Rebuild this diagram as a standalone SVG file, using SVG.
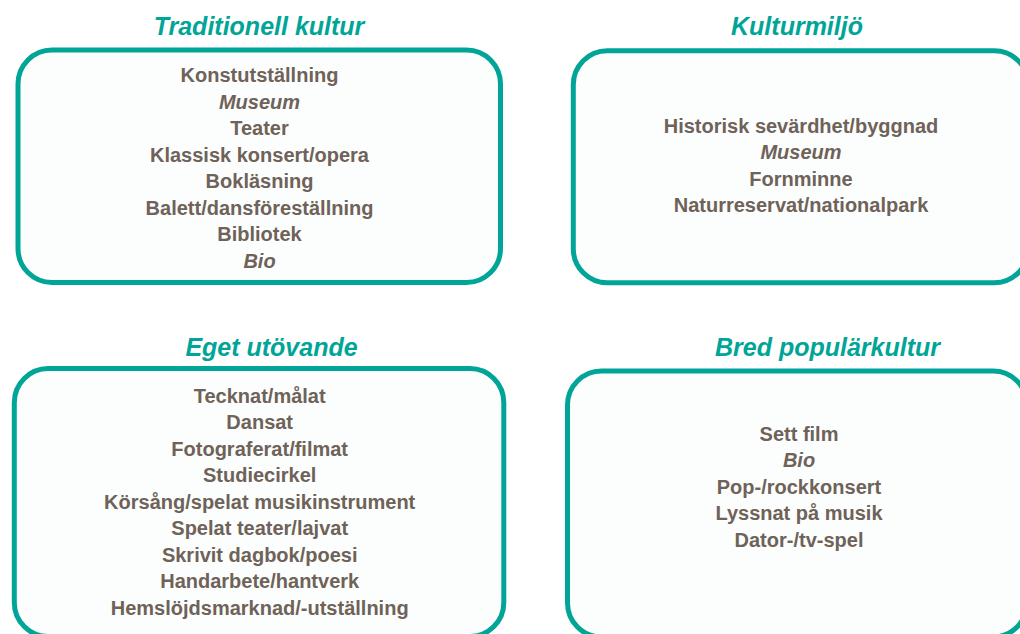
<svg xmlns="http://www.w3.org/2000/svg" width="1020" height="634" viewBox="0 0 1020 634">
<style>
.box{fill:#FCFEFD;stroke:#00A597;stroke-width:5}
.title{font-family:"Liberation Sans",Arial,sans-serif;font-size:25px;font-weight:bold;font-style:italic;fill:#00A597;text-anchor:middle}
.item{font-family:"Liberation Sans",Arial,sans-serif;font-size:20px;font-weight:bold;fill:#6E6259;text-anchor:middle}
.it{font-style:italic}
</style>
<rect width="1020" height="634" fill="#FFFFFF"/>
<g id="connectors"/>
<g id="traditionell-kultur">
<rect class="box" x="18" y="50" width="482.5" height="232.5" rx="34" ry="34"/>
<text class="title" x="259" y="35">Traditionell kultur</text>
<text class="item" x="259.5" y="82">Konstutställning</text>
<text class="item it" x="259.5" y="108.5">Museum</text>
<text class="item" x="259.5" y="135">Teater</text>
<text class="item" x="259.5" y="161.5">Klassisk konsert/opera</text>
<text class="item" x="259.5" y="188">Bokläsning</text>
<text class="item" x="259.5" y="214.5">Balett/dansföreställning</text>
<text class="item" x="259.5" y="241">Bibliotek</text>
<text class="item it" x="259.5" y="267.5">Bio</text>
</g>
<g id="kulturmiljo">
<rect class="box" x="573.3" y="50.8" width="455" height="232" rx="34" ry="34"/>
<text class="title" x="797" y="35">Kulturmiljö</text>
<text class="item" x="801" y="132.7">Historisk sevärdhet/byggnad</text>
<text class="item it" x="801" y="159.2">Museum</text>
<text class="item" x="801" y="185.7">Fornminne</text>
<text class="item" x="801" y="212.2">Naturreservat/nationalpark</text>
</g>
<g id="eget-utovande">
<rect class="box" x="14.3" y="368.5" width="489.5" height="268" rx="34" ry="34"/>
<text class="title" x="271.5" y="355.5">Eget utövande</text>
<text class="item" x="259.7" y="402.7">Tecknat/målat</text>
<text class="item" x="259.7" y="429.2">Dansat</text>
<text class="item" x="259.7" y="455.7">Fotograferat/filmat</text>
<text class="item" x="259.7" y="482.2">Studiecirkel</text>
<text class="item" x="259.7" y="508.7">Körsång/spelat musikinstrument</text>
<text class="item" x="259.7" y="535.2">Spelat teater/lajvat</text>
<text class="item" x="259.7" y="561.7">Skrivit dagbok/poesi</text>
<text class="item" x="259.7" y="588.2">Handarbete/hantverk</text>
<text class="item" x="259.7" y="614.7">Hemslöjdsmarknad/-utställning</text>
</g>
<g id="bred-popularkultur">
<rect class="box" x="567.5" y="371" width="459.5" height="266" rx="34" ry="34"/>
<text class="title" x="827.5" y="355.5">Bred populärkultur</text>
<text class="item" x="799" y="440.7">Sett film</text>
<text class="item it" x="799" y="467.2">Bio</text>
<text class="item" x="799" y="493.7">Pop-/rockkonsert</text>
<text class="item" x="799" y="520.2">Lyssnat på musik</text>
<text class="item" x="799" y="546.7">Dator-/tv-spel</text>
</g>
</svg>
